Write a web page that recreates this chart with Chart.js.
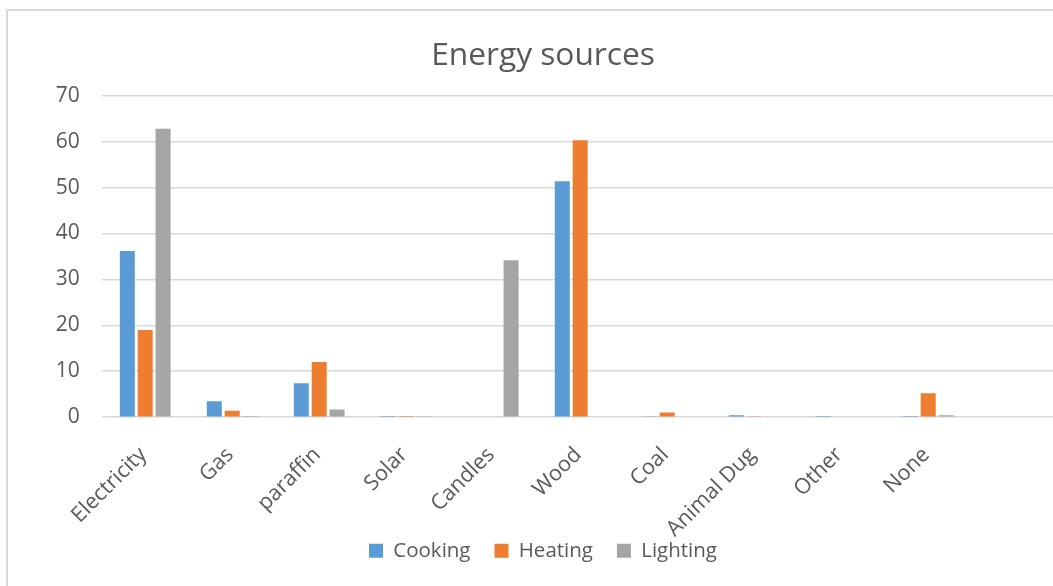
<!DOCTYPE html>
<html>
<head>
<meta charset="utf-8">
<title>Energy sources</title>
<script src="https://cdn.jsdelivr.net/npm/chart.js@4/dist/chart.umd.min.js"></script>
<style>
  html, body { margin: 0; padding: 0; background: #fff; width: 1053px; height: 586px; overflow: hidden; }
  #wrap { position: absolute; left: 0; top: 0; width: 1080px; height: 586px; }
  #frame { position: absolute; left: 6px; top: 9px; width: 1100px; height: 600px; border: 2px solid #d9d9d9; box-sizing: border-box; pointer-events: none; }
  canvas { position: absolute; left: 0; top: 0; }
</style>
</head>
<body>
<div id="wrap">
  <div id="frame"></div>
  <canvas id="chart" width="1080" height="586"></canvas>
</div>
<script>
// Energy source shares by household use
const categories = ['Electricity', 'Gas', 'paraffin', 'Solar', 'Candles', 'Wood', 'Coal', 'Animal Dug', 'Other', 'None', ''];
const cooking  = [36.2, 3.5, 7.4, 0.05, 0,    51.4, 0.2, 0.4, 0.05, 0.05, null];
const heating  = [19.0, 1.4, 12.0, 0.05, 0,   60.3, 1.0, 0.2, 0,    5.2,  null];
const lighting = [62.8, 0.05, 1.7, 0.2, 34.2, 0,    0,   0,   0,    0.4,  null];
const yTicks = [0, 10, 20, 30, 40, 50, 60, 70];

const textGray = '#595959';
const gridGray = '#d9d9d9';
const font = 'Open Sans';

// Let the slanted category labels run past the axis box into the space above the legend
const unclippedLabels = {
  id: 'unclippedLabels',
  beforeDraw(chart) {
    chart.scales.x._computeLabelArea = () => undefined;
  }
};

new Chart(document.getElementById('chart'), {
  type: 'bar',
  data: {
    labels: categories,
    datasets: [
      { label: 'Cooking',  data: cooking,  backgroundColor: '#5b9bd5' },
      { label: 'Heating',  data: heating,  backgroundColor: '#ed7d31' },
      { label: 'Lighting', data: lighting, backgroundColor: '#a5a5a5' }
    ]
  },
  plugins: [unclippedLabels],
  options: {
    responsive: false,
    animation: false,
    devicePixelRatio: 1,
    categoryPercentage: 0.617,
    barPercentage: 0.838,
    layout: { padding: { left: 27.3, right: 21.3, top: 0, bottom: 15 } },
    plugins: {
      title: {
        display: true,
        text: 'Energy sources',
        color: textGray,
        font: { family: font, size: 31.7, weight: 'normal', lineHeight: 1.2 },
        padding: { top: 37, bottom: 20.7 }
      },
      legend: {
        position: 'bottom',
        labels: {
          color: textGray,
          font: { family: font, size: 20.5 },
          boxWidth: 14,
          boxHeight: 14,
          padding: 24
        }
      },
      tooltip: { enabled: false }
    },
    scales: {
      x: {
        grid: { display: false },
        border: { display: false },
        ticks: {
          color: textGray,
          font: { family: font, size: 21.5 },
          minRotation: 45,
          maxRotation: 45,
          autoSkip: false,
          padding: 17,
          labelOffset: -2
        },
        afterFit: (scale) => { scale.height = 99.3; }
      },
      y: {
        min: 0,
        max: 70,
        afterBuildTicks: (scale) => { scale.ticks = yTicks.map(v => ({ value: v })); },
        grid: { color: gridGray, lineWidth: 1.6, drawTicks: false },
        border: { display: false },
        ticks: {
          color: textGray,
          font: { family: font, size: 21 },
          padding: 22
        },
        afterFit: (scale) => { scale.width = 74.4; }
      }
    }
  }
});
</script>
</body>
</html>
